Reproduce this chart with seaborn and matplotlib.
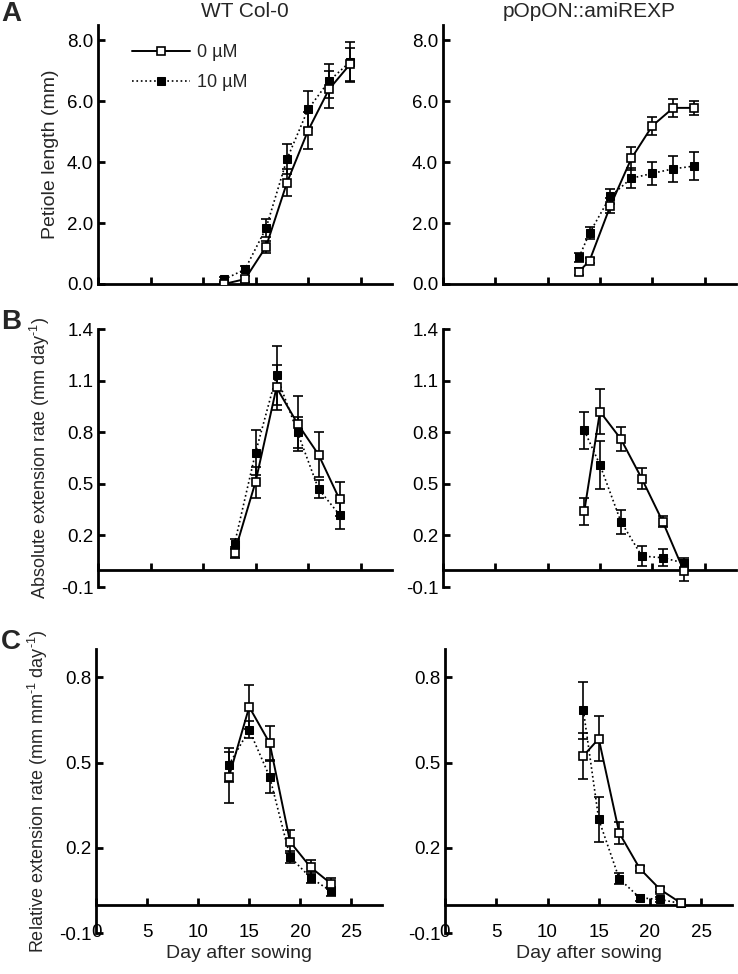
import numpy as np
import pandas as pd
import matplotlib
matplotlib.use('Agg')
import matplotlib.pyplot as plt
import seaborn as sns

# Day after sowing for each panel
days_len_wt = [12, 14, 16, 18, 20, 22, 24]
days_len_ami = [13, 14, 16, 18, 20, 22, 24]
days_rate_wt = [13, 15, 17, 19, 21, 23]
days_rate_ami = [13.5, 15, 17, 19, 21, 23]

# A: petiole length (mm)
len_wt_0 = [0.0, 0.16, 1.22, 3.33, 5.03, 6.39, 7.21]
len_wt_0_err = [0.05, 0.1, 0.2, 0.45, 0.6, 0.6, 0.55]
len_wt_10 = [0.15, 0.48, 1.83, 4.10, 5.73, 6.66, 7.29]
len_wt_10_err = [0.08, 0.1, 0.3, 0.5, 0.6, 0.55, 0.65]
len_ami_0 = [0.41, 0.76, 2.57, 4.12, 5.19, 5.78, 5.78]
len_ami_0_err = [0.1, 0.08, 0.25, 0.38, 0.3, 0.3, 0.22]
len_ami_10 = [0.88, 1.67, 2.88, 3.47, 3.63, 3.78, 3.87]
len_ami_10_err = [0.15, 0.2, 0.25, 0.33, 0.38, 0.42, 0.45]

# B: absolute extension rate (mm day-1)
abs_wt_0 = [0.10, 0.51, 1.06, 0.85, 0.67, 0.41]
abs_wt_0_err = [0.03, 0.09, 0.13, 0.16, 0.13, 0.10]
abs_wt_10 = [0.15, 0.68, 1.13, 0.80, 0.47, 0.32]
abs_wt_10_err = [0.03, 0.13, 0.17, 0.09, 0.05, 0.08]
abs_ami_0 = [0.34, 0.92, 0.76, 0.53, 0.28, -0.005]
abs_ami_0_err = [0.08, 0.13, 0.07, 0.06, 0.03, 0.06]
abs_ami_10 = [0.81, 0.61, 0.28, 0.08, 0.07, 0.04]
abs_ami_10_err = [0.11, 0.14, 0.07, 0.06, 0.05, 0.03]

# C: relative extension rate (mm mm-1 day-1)
rel_wt_0 = [0.448, 0.696, 0.569, 0.221, 0.132, 0.074]
rel_wt_0_err = [0.09, 0.077, 0.06, 0.04, 0.025, 0.02]
rel_wt_10 = [0.492, 0.615, 0.45, 0.168, 0.095, 0.047]
rel_wt_10_err = [0.06, 0.03, 0.057, 0.02, 0.02, 0.015]
rel_ami_0 = [0.524, 0.584, 0.252, 0.127, 0.053, 0.006]
rel_ami_0_err = [0.08, 0.08, 0.04, 0.01, 0.01, 0.01]
rel_ami_10 = [0.684, 0.30, 0.091, 0.024, 0.018, 0.004]
rel_ami_10_err = [0.10, 0.08, 0.02, 0.01, 0.01, 0.01]

sns.set_style('ticks')
plt.rcParams['font.family'] = ['Liberation Sans', 'DejaVu Sans']
plt.rcParams['mathtext.fontset'] = 'custom'
plt.rcParams['mathtext.rm'] = 'Liberation Sans'
plt.rcParams['mathtext.default'] = 'regular'

W, H = 738, 974
fig = plt.figure(figsize=(W / 100, H / 100), dpi=100)


def add_ax(x0, top, x1, bottom):
    return fig.add_axes([x0 / W, 1 - bottom / H, (x1 - x0) / W, (bottom - top) / H])


def draw(ax, days, v0, e0, v10, e10):
    # 10 uM: filled squares, dotted line
    ax.errorbar(days, v10, yerr=e10, fmt='none', ecolor='black',
                elinewidth=1.2, capsize=3.5, capthick=1.2, zorder=2)
    sns.lineplot(x=days, y=v10, ax=ax, color='black', linestyle=':',
                 linewidth=1.2, marker='s', markersize=5.5,
                 markerfacecolor='black', markeredgecolor='black', zorder=3)
    # 0 uM: open squares, solid line
    ax.errorbar(days, v0, yerr=e0, fmt='none', ecolor='black',
                elinewidth=1.2, capsize=3.5, capthick=1.2, zorder=2)
    sns.lineplot(x=days, y=v0, ax=ax, color='black', linestyle='-',
                 linewidth=1.4, marker='s', markersize=6,
                 markerfacecolor='white', markeredgecolor='black',
                 markeredgewidth=1.2, zorder=4)


def style(ax, ylim, yticks, fmt, zero_axis, xlabels):
    sns.despine(ax=ax)
    ax.set_xlim(0, 28)
    ax.set_ylim(*ylim)
    ax.set_xticks([0, 5, 10, 15, 20, 25])
    ax.set_yticks(yticks)
    ax.set_yticklabels([fmt % t for t in yticks])
    for s in ['left', 'bottom']:
        ax.spines[s].set_linewidth(2)
        ax.spines[s].set_color('black')
    if zero_axis:
        ax.spines['bottom'].set_position(('data', 0))
    ax.tick_params(direction='in', length=5, width=2, labelsize=13.5, colors='black')
    if xlabels:
        ax.tick_params(axis='x', pad=14)
        ax.set_xlabel('Day after sowing', fontsize=14, labelpad=3)
    else:
        ax.tick_params(axis='x', labelbottom=False)
    ax.set_ylabel('')


# Row A
axA1 = add_ax(98, 25, 392, 284)
axA2 = add_ax(443, 25, 736, 284)
draw(axA1, days_len_wt, len_wt_0, len_wt_0_err, len_wt_10, len_wt_10_err)
draw(axA2, days_len_ami, len_ami_0, len_ami_0_err, len_ami_10, len_ami_10_err)
for ax in [axA1, axA2]:
    style(ax, (0, 8.5), [0, 2, 4, 6, 8], '%.1f', False, False)
axA1.set_ylabel('Petiole length (mm)', fontsize=14, labelpad=6)
axA1.set_title('WT Col-0', fontsize=15, pad=6)
axA2.set_title('pOpON::amiREXP', fontsize=15, pad=6)

h0 = axA1.lines[-1]
h10 = axA1.lines[0]
for ln in axA1.lines:
    if ln.get_linestyle() == '-':
        h0 = ln
    elif ln.get_linestyle() == ':':
        h10 = ln
axA1.legend([h0, h10], ['0 µM', '10 µM'], loc='upper left',
            bbox_to_anchor=(0.06, 0.99), frameon=False, fontsize=13,
            handlelength=3.2, labelspacing=0.75, handletextpad=0.4)

# Row B
axB1 = add_ax(98, 329, 392, 587)
axB2 = add_ax(443, 329, 736, 587)
draw(axB1, days_rate_wt, abs_wt_0, abs_wt_0_err, abs_wt_10, abs_wt_10_err)
draw(axB2, days_rate_ami, abs_ami_0, abs_ami_0_err, abs_ami_10, abs_ami_10_err)
for ax in [axB1, axB2]:
    style(ax, (-0.1, 1.4), [-0.1, 0.2, 0.5, 0.8, 1.1, 1.4], '%.1f', True, False)
axB1.set_ylabel(r'Absolute extension rate (mm day$^{\text{-}1}$)', fontsize=13, labelpad=6)

# Row C
axC1 = add_ax(96, 649, 382, 933)
axC2 = add_ax(445, 649, 732, 933)
draw(axC1, days_rate_wt, rel_wt_0, rel_wt_0_err, rel_wt_10, rel_wt_10_err)
draw(axC2, days_rate_ami, rel_ami_0, rel_ami_0_err, rel_ami_10, rel_ami_10_err)
for ax in [axC1, axC2]:
    style(ax, (-0.1, 0.9), [-0.1, 0.2, 0.5, 0.8], '%.1f', True, True)
axC1.set_ylabel(r'Relative extension rate (mm mm$^{\text{-}1}$ day$^{\text{-}1}$)', fontsize=13, labelpad=6)

# Panel letters
for letter, y in [('A', 14), ('B', 322), ('C', 642)]:
    fig.text(1 / W, 1 - y / H, letter, fontsize=20, fontweight='bold', va='center', ha='left')

fig.savefig('out.png', dpi=100)
